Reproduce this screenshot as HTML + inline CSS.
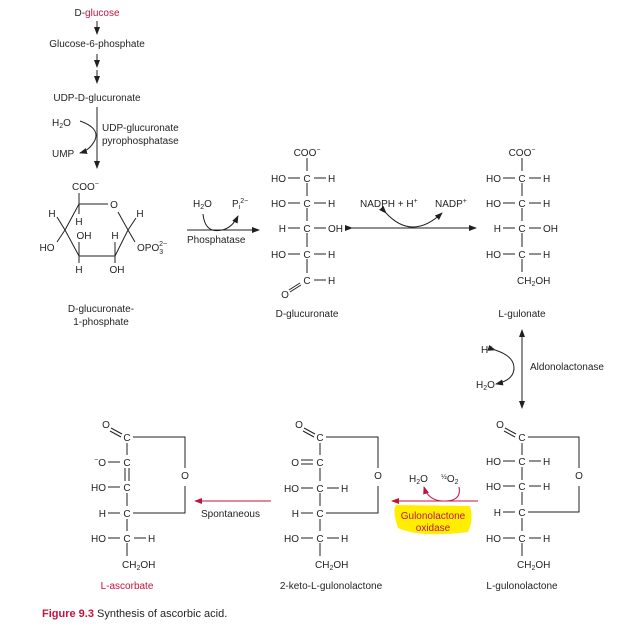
<!DOCTYPE html>
<html><head><meta charset="utf-8"><style>
html,body{margin:0;padding:0;background:#fff;width:623px;height:635px;overflow:hidden}
svg{display:block}
text{font-family:"Liberation Sans",sans-serif;font-size:10px;fill:#231f20}
.r{fill:#c4123f}
line,path,polyline{stroke:#231f20;stroke-width:1;fill:none}
.red{stroke:#c4123f}
.m{text-anchor:middle}.e{text-anchor:end}
.s{font-size:7px}
</style></head><body>
<svg width="623" height="635" viewBox="0 0 623 635">
<defs>
<marker id="a" markerWidth="8" markerHeight="6" refX="7" refY="3" orient="auto" markerUnits="userSpaceOnUse"><path d="M0,0 L8,3 L0,6 Z" style="fill:#231f20;stroke:none"/></marker>
<marker id="ar" markerWidth="8" markerHeight="6" refX="7" refY="3" orient="auto" markerUnits="userSpaceOnUse"><path d="M0,0 L8,3 L0,6 Z" style="fill:#c4123f;stroke:none"/></marker>
</defs>

<!-- top pathway -->
<text x="97" y="16" class="m">D-<tspan class="r">glucose</tspan></text>
<line x1="97" y1="21" x2="97" y2="34" marker-end="url(#a)"/>
<text x="97" y="47" class="m">Glucose-6-phosphate</text>
<line x1="97" y1="54" x2="97" y2="67" marker-end="url(#a)"/>
<line x1="97" y1="70" x2="97" y2="83" marker-end="url(#a)"/>
<text x="97" y="101" class="m">UDP-D-glucuronate</text>
<line x1="97" y1="107" x2="97" y2="168" marker-end="url(#a)"/>
<text x="52" y="126">H<tspan class="s" dy="2">2</tspan><tspan dy="-2">O</tspan></text>
<text x="52" y="157">UMP</text>
<path d="M80,121 Q100,128 95,140 Q90,150 80,153" marker-end="url(#a)"/>
<text x="102" y="131">UDP-glucuronate</text>
<text x="102" y="144">pyrophosphatase</text>

<!-- glucuronate-1-phosphate ring -->
<text x="72" y="190">COO<tspan class="s" dy="-4">−</tspan></text>
<line x1="79" y1="193" x2="79" y2="204"/>
<polyline points="108,204 79,204 65,230 79,256 115,256 128,230 118,212"/>
<text x="114" y="208" class="m">O</text>
<line x1="79" y1="204" x2="79" y2="214"/>
<text x="79" y="225" class="m">H</text>
<line x1="65" y1="230" x2="57" y2="217"/>
<text x="52" y="217" class="m">H</text>
<line x1="65" y1="230" x2="57" y2="242"/>
<text x="47" y="251" class="m">HO</text>
<text x="84" y="239" class="m">OH</text>
<text x="115" y="239" class="m">H</text>
<line x1="79" y1="242" x2="79" y2="256"/>
<line x1="115" y1="242" x2="115" y2="256"/>
<line x1="79" y1="256" x2="79" y2="263"/>
<line x1="115" y1="256" x2="115" y2="263"/>
<text x="79" y="273" class="m">H</text>
<text x="117" y="273" class="m">OH</text>
<line x1="128" y1="230" x2="136" y2="218"/>
<text x="140" y="217" class="m">H</text>
<line x1="128" y1="230" x2="135" y2="242"/>
<text x="137" y="251">OPO<tspan class="s" dy="3">3</tspan><tspan class="s" dx="-4" dy="-8">2−</tspan></text>
<text x="101" y="312" class="m">D-glucuronate-</text>
<text x="101" y="325" class="m">1-phosphate</text>

<!-- phosphatase -->
<text x="193" y="207">H<tspan class="s" dy="2">2</tspan><tspan dy="-2">O</tspan></text>
<text x="232" y="207">P<tspan class="s" dy="2">i</tspan><tspan class="s" dy="-6">2−</tspan></text>
<path d="M203,214 Q205,234 222,230 Q232,228 238,216" marker-end="url(#a)"/>
<line x1="187" y1="230" x2="259" y2="230" marker-end="url(#a)"/>
<text x="187" y="243">Phosphatase</text>

<!-- D-glucuronate cx=307 -->
<text x="307" y="156" class="m">COO<tspan class="s" dy="-4">−</tspan></text>
<g>
<line x1="307" y1="158" x2="307" y2="171"/><line x1="307" y1="183" x2="307" y2="196"/><line x1="307" y1="208" x2="307" y2="221"/><line x1="307" y1="233" x2="307" y2="247"/><line x1="307" y1="259" x2="307" y2="273"/>
<text x="286" y="182" class="e">HO</text><line x1="288" y1="178" x2="300" y2="178"/><text x="307" y="182" class="m">C</text><line x1="314" y1="178" x2="326" y2="178"/><text x="328" y="182">H</text>
<text x="286" y="207" class="e">HO</text><line x1="288" y1="203" x2="300" y2="203"/><text x="307" y="207" class="m">C</text><line x1="314" y1="203" x2="326" y2="203"/><text x="328" y="207">H</text>
<text x="286" y="232" class="e">H</text><line x1="288" y1="228" x2="300" y2="228"/><text x="307" y="232" class="m">C</text><line x1="314" y1="228" x2="326" y2="228"/><text x="328" y="232">OH</text>
<text x="286" y="258" class="e">HO</text><line x1="288" y1="254" x2="300" y2="254"/><text x="307" y="258" class="m">C</text><line x1="314" y1="254" x2="326" y2="254"/><text x="328" y="258">H</text>
<text x="307" y="284" class="m">C</text><line x1="314" y1="280" x2="326" y2="280"/><text x="328" y="284">H</text>
<line x1="289" y1="290" x2="300" y2="283"/><line x1="290" y1="292" x2="301" y2="285"/>
<text x="285" y="298" class="m">O</text>
</g>
<text x="307" y="317" class="m">D-glucuronate</text>

<!-- NADPH -->
<line x1="352" y1="228" x2="476" y2="228" marker-start="url(#a)" marker-end="url(#a)"/>
<text x="360" y="207">NADPH + H<tspan class="s" dy="-4">+</tspan></text>
<text x="435" y="207">NADP<tspan class="s" dy="-4">+</tspan></text>
<path d="M386,213 Q412,241 442,213" marker-start="url(#a)" marker-end="url(#a)"/>

<!-- L-gulonate cx=522 -->
<text x="522" y="156" class="m">COO<tspan class="s" dy="-4">−</tspan></text>
<line x1="522" y1="158" x2="522" y2="171"/><line x1="522" y1="183" x2="522" y2="196"/><line x1="522" y1="208" x2="522" y2="221"/><line x1="522" y1="233" x2="522" y2="247"/><line x1="522" y1="259" x2="522" y2="272"/>
<text x="501" y="182" class="e">HO</text><line x1="503" y1="178" x2="515" y2="178"/><text x="522" y="182" class="m">C</text><line x1="529" y1="178" x2="541" y2="178"/><text x="543" y="182">H</text>
<text x="501" y="207" class="e">HO</text><line x1="503" y1="203" x2="515" y2="203"/><text x="522" y="207" class="m">C</text><line x1="529" y1="203" x2="541" y2="203"/><text x="543" y="207">H</text>
<text x="501" y="232" class="e">H</text><line x1="503" y1="228" x2="515" y2="228"/><text x="522" y="232" class="m">C</text><line x1="529" y1="228" x2="541" y2="228"/><text x="543" y="232">OH</text>
<text x="501" y="258" class="e">HO</text><line x1="503" y1="254" x2="515" y2="254"/><text x="522" y="258" class="m">C</text><line x1="529" y1="254" x2="541" y2="254"/><text x="543" y="258">H</text>
<text x="517" y="284">CH<tspan class="s" dy="2">2</tspan><tspan dy="-2">OH</tspan></text>
<text x="522" y="317" class="m">L-gulonate</text>

<!-- aldonolactonase -->
<line x1="522" y1="405" x2="522" y2="330" marker-end="url(#a)"/>
<line x1="522" y1="380" x2="522" y2="408" marker-end="url(#a)"/>
<text x="481" y="353">H<tspan class="s" dy="-4">−</tspan></text>
<text x="476" y="388">H<tspan class="s" dy="2">2</tspan><tspan dy="-2">O</tspan></text>
<path d="M495,350 Q514,356 514,368 Q514,380 496,384" marker-start="url(#a)" marker-end="url(#a)"/>
<text x="530" y="370">Aldonolactonase</text>

<!-- L-gulonolactone cx=522 -->
<text x="500" y="428" class="m">O</text>
<line x1="505" y1="428" x2="516" y2="434"/><line x1="504" y1="431" x2="515" y2="437"/>
<text x="522" y="441" class="m">C</text>
<polyline points="528,437 579,437 579,468"/><text x="579" y="479" class="m">O</text><polyline points="579,486 579,512 528,512"/>
<line x1="522" y1="443" x2="522" y2="455"/><line x1="522" y1="467" x2="522" y2="480"/><line x1="522" y1="492" x2="522" y2="505"/><line x1="522" y1="518" x2="522" y2="531"/><line x1="522" y1="543" x2="522" y2="556"/>
<text x="501" y="465" class="e">HO</text><line x1="503" y1="461" x2="515" y2="461"/><text x="522" y="465" class="m">C</text><line x1="529" y1="461" x2="541" y2="461"/><text x="543" y="465">H</text>
<text x="501" y="490" class="e">HO</text><line x1="503" y1="486" x2="515" y2="486"/><text x="522" y="490" class="m">C</text><line x1="529" y1="486" x2="541" y2="486"/><text x="543" y="490">H</text>
<text x="501" y="516" class="e">H</text><line x1="503" y1="512" x2="515" y2="512"/><text x="522" y="516" class="m">C</text>
<text x="501" y="542" class="e">HO</text><line x1="503" y1="538" x2="515" y2="538"/><text x="522" y="542" class="m">C</text><line x1="529" y1="538" x2="541" y2="538"/><text x="543" y="542">H</text>
<text x="517" y="568">CH<tspan class="s" dy="2">2</tspan><tspan dy="-2">OH</tspan></text>
<text x="522" y="589" class="m">L-gulonolactone</text>

<!-- gulonolactone oxidase -->
<path d="M396,505 Q392,510 398,528 Q420,538 468,532 Q474,520 470,506 Z" style="fill:#ffee00;stroke:none"/>
<line x1="478" y1="501" x2="392" y2="501" class="red" marker-end="url(#ar)"/>
<text x="409" y="482">H<tspan class="s" dy="2">2</tspan><tspan dy="-2">O</tspan></text>
<text x="441" y="482"><tspan class="s" dy="-3">½</tspan><tspan dy="3">O</tspan><tspan class="s" dy="2">2</tspan></text>
<path d="M459,487 Q462,502 442,501 Q428,500 424,487" class="red" marker-end="url(#ar)"/>
<text x="433" y="519" class="m r">Gulonolactone</text>
<text x="433" y="531" class="m r">oxidase</text>

<!-- 2-keto cx=320 -->
<text x="299" y="428" class="m">O</text>
<line x1="304" y1="428" x2="315" y2="434"/><line x1="303" y1="431" x2="314" y2="437"/>
<text x="320" y="441" class="m">C</text>
<polyline points="326,437 378,437 378,468"/><text x="378" y="479" class="m">O</text><polyline points="378,486 378,513 326,513"/>
<line x1="320" y1="443" x2="320" y2="455"/><line x1="320" y1="468" x2="320" y2="481"/><line x1="320" y1="493" x2="320" y2="506"/><line x1="320" y1="519" x2="320" y2="531"/><line x1="320" y1="543" x2="320" y2="556"/>
<text x="299" y="466" class="e">O</text><line x1="301" y1="460" x2="313" y2="460"/><line x1="301" y1="464" x2="313" y2="464"/><text x="320" y="466" class="m">C</text>
<text x="299" y="492" class="e">HO</text><line x1="301" y1="488" x2="313" y2="488"/><text x="320" y="492" class="m">C</text><line x1="327" y1="488" x2="339" y2="488"/><text x="341" y="492">H</text>
<text x="299" y="517" class="e">H</text><line x1="301" y1="513" x2="313" y2="513"/><text x="320" y="517" class="m">C</text>
<text x="299" y="542" class="e">HO</text><line x1="301" y1="538" x2="313" y2="538"/><text x="320" y="542" class="m">C</text><line x1="327" y1="538" x2="339" y2="538"/><text x="341" y="542">H</text>
<text x="315" y="568">CH<tspan class="s" dy="2">2</tspan><tspan dy="-2">OH</tspan></text>
<text x="331" y="589" class="m">2-keto-L-gulonolactone</text>

<!-- spontaneous -->
<line x1="271" y1="501" x2="195" y2="501" class="red" marker-end="url(#ar)"/>
<text x="201" y="517">Spontaneous</text>

<!-- L-ascorbate cx=127 -->
<text x="106" y="428" class="m">O</text>
<line x1="111" y1="428" x2="122" y2="434"/><line x1="110" y1="431" x2="121" y2="437"/>
<text x="127" y="441" class="m">C</text>
<polyline points="133,437 185,437 185,468"/><text x="185" y="479" class="m">O</text><polyline points="185,486 185,513 133,513"/>
<line x1="127" y1="443" x2="127" y2="455"/>
<line x1="125" y1="468" x2="125" y2="481"/><line x1="129" y1="468" x2="129" y2="481"/>
<line x1="127" y1="493" x2="127" y2="506"/><line x1="127" y1="519" x2="127" y2="531"/><line x1="127" y1="543" x2="127" y2="556"/>
<text x="106" y="466" class="e"><tspan class="s" dy="-4">−</tspan><tspan dy="4">O</tspan></text><line x1="108" y1="462" x2="120" y2="462"/><text x="127" y="466" class="m">C</text>
<text x="106" y="491" class="e">HO</text><line x1="108" y1="487" x2="120" y2="487"/><text x="127" y="491" class="m">C</text>
<text x="106" y="517" class="e">H</text><line x1="108" y1="513" x2="120" y2="513"/><text x="127" y="517" class="m">C</text>
<text x="106" y="542" class="e">HO</text><line x1="108" y1="538" x2="120" y2="538"/><text x="127" y="542" class="m">C</text><line x1="134" y1="538" x2="146" y2="538"/><text x="148" y="542">H</text>
<text x="122" y="568">CH<tspan class="s" dy="2">2</tspan><tspan dy="-2">OH</tspan></text>
<text x="127" y="589" class="m r">L-ascorbate</text>

<!-- caption -->
<text x="42" y="617" style="font-family:'Liberation Sans Narrow','Liberation Sans',sans-serif;font-size:11px"><tspan class="r" style="font-weight:bold">Figure 9.3</tspan>  Synthesis of ascorbic acid.</text>
</svg>
</body></html>
